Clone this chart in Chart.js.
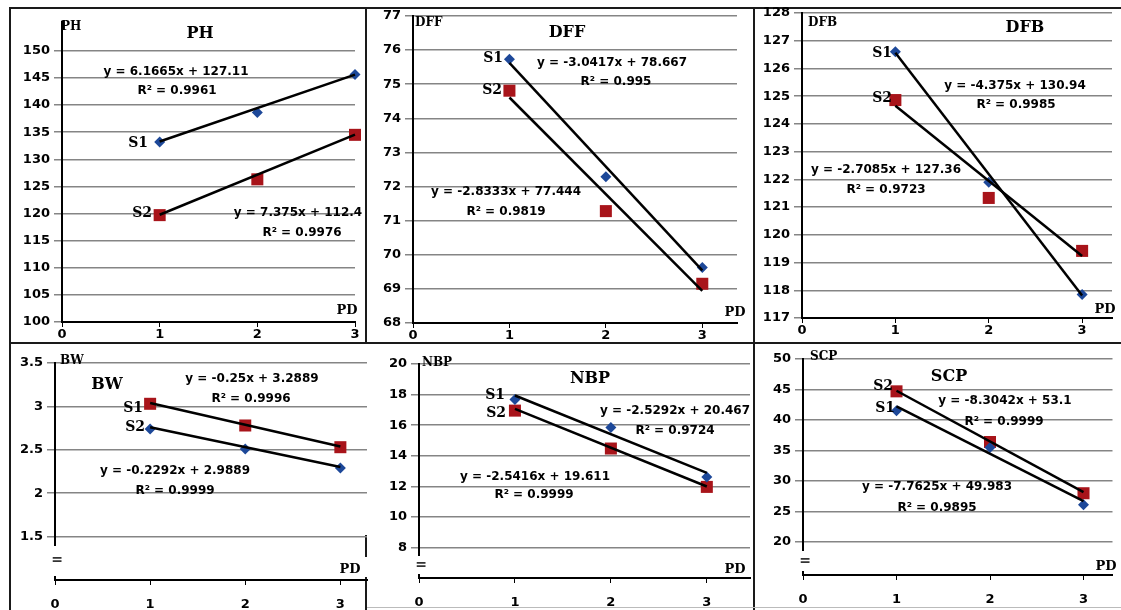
<!DOCTYPE html>
<html>
<head>
<meta charset="utf-8">
<title>PD regressions</title>
<script src="https://cdn.jsdelivr.net/npm/chart.js@4.4.1/dist/chart.umd.min.js"></script>
<style>
    html, body { margin: 0; padding: 0; background: #fff; }
    #sheet { position: relative; width: 1121px; height: 610px; overflow: hidden; background: #fff; }
    #sheet canvas { position: absolute; left: 0; top: 0; }
    .rule { position: absolute; background: #1a1a1a; }
</style>
</head>
<body>
<div id="sheet">
    <div class="rule" style="left:9px;top:7px;width:1112px;height:2px"></div>
    <div class="rule" style="left:9px;top:342px;width:1112px;height:2px"></div>
    <div class="rule" style="left:9px;top:7px;width:2px;height:603px"></div>
    <div class="rule" style="left:365px;top:7px;width:2px;height:337px"></div>
    <div class="rule" style="left:365px;top:535px;width:2px;height:22px"></div>
    <div class="rule" style="left:365px;top:577px;width:2px;height:33px"></div>
    <div class="rule" style="left:753px;top:7px;width:2px;height:603px"></div>
    <div class="rule" style="left:367px;top:607px;width:754px;height:1px;background:#bbb"></div>
</div>
<script>
    "use strict";

    // Data
    const pdValues = [1, 2, 3];
    const xTicks = [0, 1, 2, 3];

    const phS1 = [133.2, 138.6, 145.6];
    const phS2 = [119.7, 126.3, 134.5];
    const phFitS1 = [6.1665, 127.11];
    const phFitS2 = [7.375, 112.4];
    const phR2 = [0.9961, 0.9976];
    const phTicks = [100, 105, 110, 115, 120, 125, 130, 135, 140, 145, 150];

    const dffS1 = [75.73, 72.29, 69.63];
    const dffS2 = [74.81, 71.28, 69.15];
    const dffFitS1 = [-3.0417, 78.667];
    const dffFitS2 = [-2.8333, 77.444];
    const dffR2 = [0.995, 0.9819];
    const dffTicks = [68, 69, 70, 71, 72, 73, 74, 75, 76, 77];

    const dfbS1 = [126.6, 121.9, 117.85];
    const dfbS2 = [124.86, 121.33, 119.42];
    const dfbFitS1 = [-4.375, 130.94];
    const dfbFitS2 = [-2.7085, 127.36];
    const dfbR2 = [0.9985, 0.9723];
    const dfbTicks = [117, 118, 119, 120, 121, 122, 123, 124, 125, 126, 127, 128];

    const bwS1 = [3.03, 2.78, 2.53];
    const bwS2 = [2.74, 2.51, 2.29];
    const bwFitS1 = [-0.25, 3.2889];
    const bwFitS2 = [-0.2292, 2.9889];
    const bwR2 = [0.9996, 0.9999];
    const bwTicks = [1.5, 2, 2.5, 3, 3.5];

    const nbpS1 = [17.68, 15.85, 12.61];
    const nbpS2 = [16.95, 14.47, 11.96];
    const nbpFitS1 = [-2.5292, 20.467];
    const nbpFitS2 = [-2.5416, 19.611];
    const nbpR2 = [0.9724, 0.9999];
    const nbpTicks = [8, 10, 12, 14, 16, 18, 20];

    const scpS1 = [41.5, 35.5, 26.1];
    const scpS2 = [44.7, 36.4, 28.0];
    const scpFitS1 = [-7.7625, 49.983];
    const scpFitS2 = [-8.3042, 53.1];
    const scpR2 = [0.9895, 0.9999];
    const scpTicks = [20, 25, 30, 35, 40, 45, 50];

    // Styles / layout
    const W = 1121, H = 610, Y_W = 40, X_H = 30;
    const BLUE = '#1d4899', RED = '#a8141a';
    const marker = {};
    marker[BLUE] = { style: 'rectRot', radius: 5.5 };
    marker[RED] = { style: 'rect', radius: 8.5 };

    const panels = [
        { name: 'PH', s1: phS1, s2: phS2, fit1: phFitS1, fit2: phFitS2, r2: phR2, yTicks: phTicks,
          c1: BLUE, c2: RED, row: 0, area: { l: 62, r: 355, t: 22, b: 322 }, xMax: 3, yMin: 100, yMax: 155.3,
          pos: { title: [200, 34], axis: [61, 27], pd: [347, 311], eq1: [176, 72], rr1: [177, 91],
                 eq2: [298, 213], rr2: [302, 233], lab1: [148, 143], lab2: [152, 213] } },
        { name: 'DFF', s1: dffS1, s2: dffS2, fit1: dffFitS1, fit2: dffFitS2, r2: dffR2, yTicks: dffTicks,
          c1: BLUE, c2: RED, row: 0, area: { l: 413, r: 737, t: 16, b: 323 }, xMax: 3.36, yMin: 68, yMax: 77,
          pos: { title: [567, 33], axis: [415, 23], pd: [735, 313], eq1: [612, 63], rr1: [616, 82],
                 eq2: [506, 192], rr2: [506, 212], lab1: [503, 58], lab2: [502, 90] } },
        { name: 'DFB', s1: dfbS1, s2: dfbS2, fit1: dfbFitS1, fit2: dfbFitS2, r2: dfbR2, yTicks: dfbTicks,
          c1: BLUE, c2: RED, row: 0, area: { l: 802, r: 1112, t: 13, b: 318 }, xMax: 3.32, yMin: 117, yMax: 128,
          pos: { title: [1025, 28], axis: [808, 23], pd: [1105, 310], eq1: [1015, 86], rr1: [1016, 105],
                 eq2: [886, 170], rr2: [886, 190], lab1: [892, 53], lab2: [892, 98] } },
        { name: 'BW', s1: bwS1, s2: bwS2, fit1: bwFitS1, fit2: bwFitS2, r2: bwR2, yTicks: bwTicks,
          c1: RED, c2: BLUE, row: 1, area: { l: 55, r: 367, t: 363, b: 580 }, xMax: 3.28, yMin: 1, yMax: 3.5,
          pos: { title: [107, 385], axis: [60, 361], pd: [350, 570], eq1: [252, 379], rr1: [251, 399],
                 eq2: [175, 471], rr2: [175, 491], lab1: [143, 408], lab2: [145, 427] } },
        { name: 'NBP', s1: nbpS1, s2: nbpS2, fit1: nbpFitS1, fit2: nbpFitS2, r2: nbpR2, yTicks: nbpTicks,
          c1: BLUE, c2: RED, row: 1, area: { l: 419, r: 750, t: 364, b: 578 }, xMax: 3.45, yMin: 6, yMax: 20,
          pos: { title: [590, 379], axis: [422, 363], pd: [735, 570], eq1: [675, 411], rr1: [675, 431],
                 eq2: [535, 477], rr2: [534, 495], lab1: [505, 395], lab2: [506, 413] } },
        { name: 'SCP', s1: scpS1, s2: scpS2, fit1: scpFitS1, fit2: scpFitS2, r2: scpR2, yTicks: scpTicks,
          c1: BLUE, c2: RED, row: 1, area: { l: 803, r: 1119, t: 359, b: 575 }, xMax: 3.31, yMin: 14.6, yMax: 50,
          pos: { title: [949, 377], axis: [810, 357], pd: [1106, 567], eq1: [937, 487], rr1: [937, 508],
                 eq2: [1005, 401], rr2: [1004, 422], lab1: [895, 408], lab2: [893, 386] } }
    ];

    const toPoints = vals => pdValues.map((x, i) => ({ x: x, y: vals[i] }));
    const fitLine = f => [pdValues[0], pdValues[pdValues.length - 1]].map(x => ({ x: x, y: f[0] * x + f[1] }));
    const eqText = f => 'y = ' + f[0] + 'x + ' + f[1];

    // Annotations: title, axis names, S1/S2, equations, axis break
    const textPlugin = p => ({
        id: 'panelText',
        afterDraw(chart) {
            const c = chart.ctx, a = chart.chartArea, q = p.pos;
            c.save();
            if (p.row === 1) {
                const gTop = chart.scales.y.getPixelForValue(p.yTicks[0]) + 9;
                const gBot = a.bottom - 4;
                c.clearRect(a.left - 3, gTop, 6, gBot - gTop);
                c.fillStyle = '#333';
                c.font = 'bold 14px "DejaVu Sans"';
                c.textAlign = 'center';
                c.textBaseline = 'middle';
                c.fillText('=', a.left + 2, (gTop + gBot) / 2);
            }
            c.fillStyle = '#000';
            c.textBaseline = 'middle';
            c.textAlign = 'center';
            c.font = 'bold 16px "DejaVu Serif"';
            c.fillText(p.name, q.title[0], q.title[1]);
            c.font = 'bold 13px "DejaVu Serif"';
            c.fillText('PD', q.pd[0], q.pd[1]);
            c.font = 'bold 12px "DejaVu Sans"';
            c.fillText(eqText(p.fit1), q.eq1[0], q.eq1[1]);
            c.fillText('R\u00B2 = ' + p.r2[0], q.rr1[0], q.rr1[1]);
            c.fillText(eqText(p.fit2), q.eq2[0], q.eq2[1]);
            c.fillText('R\u00B2 = ' + p.r2[1], q.rr2[0], q.rr2[1]);
            c.textAlign = 'left';
            c.font = 'bold 12px "DejaVu Serif"';
            c.fillText(p.name, q.axis[0], q.axis[1]);
            c.textAlign = 'right';
            c.font = 'bold 14px "DejaVu Serif"';
            c.fillText('S1', q.lab1[0], q.lab1[1]);
            c.fillText('S2', q.lab2[0], q.lab2[1]);
            c.restore();
        }
    });

    const tickFont = { family: 'DejaVu Sans', size: 13, weight: 'bold' };

    panels.forEach(function (p) {
        const canvas = document.createElement('canvas');
        canvas.width = W;
        canvas.height = H;
        document.getElementById('sheet').appendChild(canvas);
        const a = p.area;

        new Chart(canvas.getContext('2d'), {
            type: 'scatter',
            data: {
                datasets: [
                    { data: fitLine(p.fit1), showLine: true, borderColor: '#000', borderWidth: 2.5, pointRadius: 0, order: 0, clip: false },
                    { data: fitLine(p.fit2), showLine: true, borderColor: '#000', borderWidth: 2.5, pointRadius: 0, order: 0, clip: false },
                    { data: toPoints(p.s1), pointStyle: marker[p.c1].style, pointRadius: marker[p.c1].radius,
                      backgroundColor: p.c1, borderWidth: 0, order: 1, clip: false },
                    { data: toPoints(p.s2), pointStyle: marker[p.c2].style, pointRadius: marker[p.c2].radius,
                      backgroundColor: p.c2, borderWidth: 0, order: 1, clip: false }
                ]
            },
            options: {
                responsive: false,
                animation: false,
                events: [],
                layout: { padding: { left: a.l - Y_W, top: a.t, right: W - a.r, bottom: H - a.b - X_H } },
                plugins: { legend: { display: false }, tooltip: { enabled: false } },
                scales: {
                    x: {
                        type: 'linear', min: 0, max: p.xMax,
                        afterBuildTicks: s => { s.ticks = xTicks.map(v => ({ value: v })); },
                        afterFit: s => { s.height = X_H; },
                        grid: { drawOnChartArea: false, color: '#000', lineWidth: 1, tickLength: 5 },
                        border: { color: '#000', width: 2 },
                        ticks: { padding: p.row === 0 ? 0 : 12, color: '#000', font: tickFont, callback: v => String(v) }
                    },
                    y: {
                        type: 'linear', min: p.yMin, max: p.yMax,
                        afterBuildTicks: s => { s.ticks = p.yTicks.map(v => ({ value: v })); },
                        afterFit: s => { s.width = Y_W; },
                        grid: { color: '#858585', lineWidth: 1.5, tickLength: 8 },
                        border: { color: '#000', width: 2 },
                        ticks: { padding: 4, color: '#000', font: tickFont, callback: v => String(v) }
                    }
                }
            },
            plugins: [textPlugin(p)]
        });
    });
</script>
</body>
</html>
